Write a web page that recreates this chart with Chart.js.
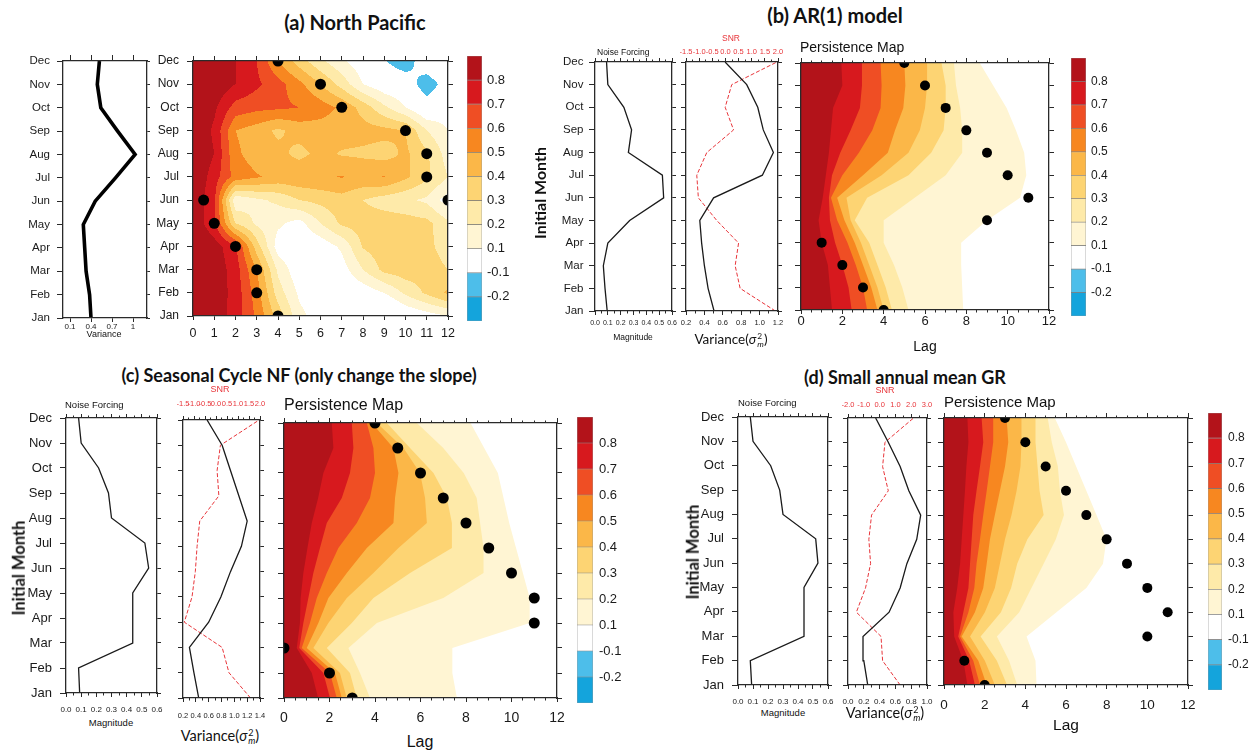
<!DOCTYPE html>
<html>
<head>
<meta charset="utf-8">
<script src="https://cdn.jsdelivr.net/npm/chart.js@4.4.1/dist/chart.umd.min.js"></script>
<style>
html, body { margin: 0; padding: 0; background: #fff; }
#fig { position: relative; width: 1256px; height: 750px; overflow: hidden; background: #fff; }
.t { position: absolute; white-space: nowrap; color: #111; line-height: 1; }
.ttl { font-family: Lato, 'Open Sans', sans-serif; font-weight: 700; }
.cal { font-family: Lato, 'Open Sans', sans-serif; }
.lab { font-family: 'Liberation Sans', Arial, sans-serif; }
.c { transform: translate(-50%, -50%); }
.l { transform: translate(0, -50%); }
.rot { transform: translate(-50%, -50%) rotate(-90deg); }
.sig { display: inline-flex; flex-direction: column; vertical-align: middle; font-size: 0.62em; line-height: 0.9; margin-left: 1px; }
</style>
</head>
<body>
<div id="fig"></div>
<script>
// ---- data (months Jan..Dec) ----
const MONTHS = ['Jan', 'Feb', 'Mar', 'Apr', 'May', 'Jun', 'Jul', 'Aug', 'Sep', 'Oct', 'Nov', 'Dec'];
const LEVELS = [-0.2, -0.1, 0.1, 0.2, 0.3, 0.4, 0.5, 0.6, 0.7, 0.8];
const CB_LABELS = ['-0.2', '-0.1', '0.1', '0.2', '0.3', '0.4', '0.5', '0.6', '0.7', '0.8'];
const COLORS = ['#14a4dc', '#4dbeea', '#ffffff', '#fff5d3', '#feeaa9', '#fdd473', '#fbb748', '#f78720', '#ef4e24', '#d7191e', '#b3131a'];

// (a) North Pacific
const VAR_A = [0.40, 0.38, 0.33, 0.31, 0.29, 0.46, 0.75, 1.03, 0.78, 0.54, 0.49, 0.52];
const VAR_A_TICKS = [0.1, 0.4, 0.7, 1.0];
// persistence by lag 0..12
const A_JAN = [0.93, 0.87, 0.75, 0.58, 0.36, 0.13, 0.05, 0.02, 0.0, -0.11, 0.0, 0.05, 0.1];
const A_FEB = [0.93, 0.87, 0.76, 0.55, 0.25, 0.08, 0.02, 0.0, 0.03, 0.1, 0.22, 0.32, 0.42];
const A_MAR = [0.93, 0.87, 0.75, 0.5, 0.18, 0.02, -0.02, 0.05, 0.2, 0.33, 0.36, 0.35, 0.3];
const A_APR = [0.92, 0.85, 0.72, 0.35, 0.05, 0.0, 0.03, 0.12, 0.31, 0.36, 0.37, 0.33, 0.25];
const A_MAY = [0.88, 0.72, 0.3, 0.18, 0.12, 0.06, 0.2, 0.32, 0.35, 0.36, 0.35, 0.33, 0.22];
const A_JUN = [0.88, 0.72, 0.12, 0.18, 0.22, 0.3, 0.33, 0.36, 0.3, 0.25, 0.22, 0.18, 0.05];
const A_JUL = [0.9, 0.75, 0.56, 0.51, 0.47, 0.48, 0.49, 0.505, 0.48, 0.505, 0.42, 0.32, 0.2];
const A_AUG = [0.9, 0.8, 0.52, 0.45, 0.43, 0.37, 0.43, 0.39, 0.38, 0.36, 0.42, 0.32, 0.15];
const A_SEP = [0.9, 0.78, 0.5, 0.45, 0.38, 0.44, 0.45, 0.45, 0.44, 0.43, 0.4, 0.2, 0.1];
const A_OCT = [0.92, 0.82, 0.66, 0.63, 0.62, 0.6, 0.55, 0.48, 0.36, 0.22, 0.1, -0.02, 0.05];
const A_NOV = [0.95, 0.88, 0.8, 0.72, 0.64, 0.53, 0.4, 0.26, 0.1, 0.02, 0.0, -0.19, -0.02];
const A_DEC = [0.95, 0.88, 0.8, 0.7, 0.5, 0.35, 0.22, 0.12, 0.03, -0.09, -0.19, 0.02, 0.08];
const DOT_A_LAG = [4, 3, 3, 2, 1, 0.5, 12, 11, 11, 10, 7, 6, 4];
const DOT_A_MON = [0, 1, 2, 3, 4, 5, 5, 6, 7, 8, 9, 10, 11];

// (b) AR(1) model
const NF_B = [0.095, 0.078, 0.065, 0.10, 0.27, 0.535, 0.525, 0.26, 0.285, 0.225, 0.10, 0.09];
const VAR_B = [0.505, 0.44, 0.40, 0.37, 0.35, 0.50, 1.03, 1.15, 1.04, 0.98, 0.86, 0.625];
const SNR_B = [1.9, 0.56, 0.37, 0.5, -0.33, -1.03, -1.09, -0.71, 0.31, -0.01, 0.24, 1.96];
const DOTS_B = [4, 3, 2, 1, 9, 11, 10, 9, 8, 7, 6, 5];
// lag where persistence falls below 0.1 .. 0.8
const B01 = [7.85, 7.8, 7.75, 7.75, 9.0, 10.6, 10.9, 10.8, 10.4, 9.95, 9.3, 8.65];
const B02 = [5.2, 4.9, 4.5, 4.0, 4.0, 5.5, 7.0, 7.8, 7.8, 7.7, 7.5, 7.4];
const B03 = [4.4, 4.1, 3.7, 3.3, 2.6, 3.2, 5.2, 6.3, 6.9, 7.0, 7.0, 6.8];
const B04 = [4.0, 3.7, 3.3, 2.9, 2.4, 2.2, 3.9, 5.2, 5.75, 6.0, 6.1, 6.1];
const B05 = [3.7, 3.4, 3.0, 2.6, 2.1, 1.75, 3.0, 4.2, 4.55, 4.95, 5.05, 5.0];
const B06 = [3.2, 3.0, 2.65, 2.25, 1.75, 1.45, 2.0, 2.8, 3.45, 3.85, 3.9, 3.85];
const B07 = [2.45, 2.3, 2.0, 1.65, 1.4, 1.35, 1.5, 1.9, 2.4, 2.85, 2.95, 2.95];
const B08 = [1.5, 1.4, 1.3, 1.0, 0.85, 1.05, 1.2, 1.35, 1.45, 1.55, 2.0, 1.95];

// (c) Seasonal Cycle NF
const NF_C = [0.09, 0.083, 0.44, 0.44, 0.44, 0.545, 0.52, 0.30, 0.28, 0.215, 0.10, 0.083];
const VAR_C = [0.445, 0.37, 0.30, 0.60, 0.79, 0.94, 1.11, 1.20, 1.07, 0.94, 0.81, 0.575];
const SNR_C = [1.57, 0.59, 0.28, -1.44, -1.09, -0.94, -0.86, -0.74, 0.13, 0.05, 0.2, 1.96];
const DOTS_C = [3, 2, 0, 11, 11, 10, 9, 8, 7, 6, 5, 4];
const C01 = [7.6, 7.4, 7.4, 10.8, 10.8, 10.5, 10.2, 9.9, 9.65, 9.4, 8.8, 8.2];
const C02 = [3.78, 3.34, 2.83, 4.08, 7.0, 8.77, 8.77, 8.62, 8.47, 7.9, 7.0, 5.84];
const C03 = [3.2, 2.9, 1.88, 2.98, 3.93, 5.54, 7.38, 7.38, 7.16, 6.57, 5.54, 4.52];
const C04 = [2.76, 2.46, 1.29, 1.95, 2.76, 3.93, 5.03, 6.28, 6.2, 5.98, 5.25, 4.08];
const C05 = [2.54, 2.24, 1.0, 1.51, 1.95, 2.76, 3.64, 4.81, 4.88, 5.03, 4.81, 3.86];
const C06 = [2.32, 2.02, 0.78, 1.14, 1.44, 1.88, 2.39, 3.2, 3.78, 4.0, 3.93, 3.64];
const C07 = [2.02, 1.73, 0.67, 0.85, 1.07, 1.29, 1.58, 1.88, 2.54, 2.9, 3.05, 2.98];
const C08 = [1.5, 1.22, 0.56, 0.7, 0.73, 0.85, 1.03, 1.22, 1.5, 1.73, 2.17, 2.1];

// (d) Small annual mean GR
const NF_D = [0.091, 0.082, 0.44, 0.44, 0.44, 0.533, 0.518, 0.30, 0.278, 0.218, 0.10, 0.082];
const VAR_D = [0.25, 0.20, 0.19, 0.52, 0.66, 0.745, 0.87, 0.92, 0.77, 0.66, 0.51, 0.35];
const SNR_D = [1.3, 0.19, 0.09, -1.47, -0.89, -0.57, -0.68, -0.51, 0.55, 0.19, 0.34, 2.15];
const DOTS_D = [2, 1, 10, 11, 10, 9, 8, 7, 6, 5, 4, 3];
const D01 = [4.55, 4.5, 4.06, 5.53, 7.0, 7.82, 7.99, 7.5, 7.0, 6.5, 6.0, 5.45];
const D02 = [3.6, 3.2, 2.6, 3.7, 4.3, 4.9, 5.5, 5.9, 5.7, 5.6, 5.3, 5.1];
const D03 = [3.1, 2.6, 1.8, 2.8, 3.3, 3.6, 4.1, 4.9, 4.7, 4.6, 4.5, 4.5];
const D04 = [2.5, 2.01, 1.28, 2.01, 2.5, 2.75, 3.0, 3.32, 3.57, 3.76, 3.81, 3.81];
const D05 = [2.1, 1.69, 0.87, 1.52, 1.93, 2.1, 2.26, 2.5, 2.75, 3.0, 3.16, 3.08];
const D06 = [1.77, 1.44, 0.79, 1.2, 1.49, 1.6, 1.77, 1.93, 2.1, 2.26, 2.42, 2.42];
const D07 = [1.52, 1.24, 0.7, 0.95, 1.2, 1.28, 1.36, 1.44, 1.6, 1.77, 1.93, 1.85];
const D08 = [1.15, 0.95, 0.5, 0.46, 0.65, 0.79, 0.87, 0.95, 1.03, 1.1, 1.2, 1.15];

// ---- setup ----
const SANS = "'Liberation Sans', Arial, Helvetica, sans-serif";
Chart.defaults.font.family = SANS;
Chart.defaults.color = '#1a1a1a';
Chart.defaults.animation = false;
Chart.defaults.events = [];
Chart.defaults.plugins.legend.display = false;
Chart.defaults.plugins.tooltip.enabled = false;

const fig = document.getElementById('fig');
const RGB = COLORS.map(h => [1, 3, 5].map(i => parseInt(h.substr(i, 2), 16)));
const bandIndex = v => { let i = 0; while (i < LEVELS.length && v >= LEVELS[i]) i++; return i; };
const fmt1 = v => v.toFixed(1);
const monthLabel = v => MONTHS[Math.round(v)];

function place(box, pad) {
  const cv = document.createElement('canvas');
  const w = box.w + pad.l + pad.r, h = box.h + pad.t + pad.b;
  cv.width = w; cv.height = h;
  cv.style.cssText = 'position:absolute;left:' + (box.l - pad.l) + 'px;top:' + (box.t - pad.t) + 'px;width:' + w + 'px;height:' + h + 'px';
  fig.appendChild(cv);
  return cv;
}

// one axis; size forces the room it takes so the plot box lands where the figure has it
function ax(axis, pos, min, max, o) {
  const horiz = pos === 'top' || pos === 'bottom';
  return {
    type: 'linear', axis: axis, position: pos, min: min, max: max, weight: o.weight === undefined ? 1 : o.weight,
    afterBuildTicks: o.values ? s => { s.ticks = o.values.map(v => ({value: v})); } : undefined,
    afterFit: s => {
      if (horiz) s.height = o.size || 0; else s.width = o.size || 0;
      s.paddingTop = 0; s.paddingBottom = 0; s.paddingLeft = 0; s.paddingRight = 0;
    },
    ticks: {
      display: !!o.fmt, stepSize: o.step, autoSkip: false, maxRotation: 0, minRotation: 0,
      font: {size: o.fs || 10}, color: o.color || '#1a1a1a', padding: o.tp === undefined ? 3 : o.tp,
      callback: o.fmt || (() => '')
    },
    grid: {drawOnChartArea: false, drawTicks: true, tickLength: o.tl === undefined ? 5 : o.tl, tickColor: '#2a2a2a', tickWidth: 1},
    border: {display: o.border !== false, color: '#2a2a2a', width: 1.3, z: 1}
  };
}

const baseOpts = scales => ({responsive: false, devicePixelRatio: 1, animation: false, layout: {padding: 0}, scales: scales});

function linePanel(box, pad, o) {
  const cv = place(box, pad);
  const datasets = o.lines.map(L => ({
    data: L.vals.map((v, m) => ({x: v, y: m})),
    xAxisID: L.axis || 'x', yAxisID: 'y',
    borderColor: L.color || '#1a1a1a', borderWidth: L.w || 1.3, borderDash: L.dash || [],
    showLine: true, pointRadius: 0, fill: false
  }));
  const scales = {
    y: ax('y', 'left', 0, 11, Object.assign({step: 1, size: pad.l, tl: 6}, o.left || {})),
    yr: ax('y', 'right', 0, 11, {step: 1, size: pad.r, tl: o.rtl || 4}),
    x: ax('x', 'bottom', o.bx.min, o.bx.max, Object.assign({size: pad.b, tl: 4}, o.bx)),
    xt: ax('x', 'top', o.tx.min, o.tx.max, Object.assign({size: pad.t, tl: 4}, o.tx))
  };
  if (o.bxm) scales.xm = ax('x', 'bottom', o.bx.min, o.bx.max, {step: o.bxm, tl: 2.5, weight: 0, border: false});
  if (o.txm) scales.xtm = ax('x', 'top', o.tx.min, o.tx.max, {step: o.txm, tl: 2.5, weight: 0, border: false});
  new Chart(cv, {type: 'scatter', data: {datasets: datasets}, options: baseOpts(scales)});
}

// filled persistence field from a lag x month grid, coloured by contour band
const heat = {
  id: 'heat',
  beforeDatasetsDraw(chart, args, opts) {
    const g = opts.grid;
    if (!g) return;
    const a = chart.chartArea, xs = chart.scales.x, ys = chart.scales.y;
    const x0 = Math.round(a.left), y0 = Math.round(a.top);
    const w = Math.round(a.right) - x0, h = Math.round(a.bottom) - y0;
    const img = chart.ctx.createImageData(w, h);
    const nk = g[0].length;
    for (let j = 0; j < h; j++) {
      const m = Math.min(Math.max(ys.getValueForPixel(y0 + j + 0.5), 0), g.length - 1);
      const m0 = Math.min(Math.floor(m), g.length - 2), fy = m - m0;
      for (let i = 0; i < w; i++) {
        const lag = Math.min(Math.max(xs.getValueForPixel(x0 + i + 0.5), 0), nk - 1);
        const k0 = Math.min(Math.floor(lag), nk - 2), fx = lag - k0;
        const v = (1 - fy) * ((1 - fx) * g[m0][k0] + fx * g[m0][k0 + 1]) + fy * ((1 - fx) * g[m0 + 1][k0] + fx * g[m0 + 1][k0 + 1]);
        const c = RGB[bandIndex(v)], p = (j * w + i) * 4;
        img.data[p] = c[0]; img.data[p + 1] = c[1]; img.data[p + 2] = c[2]; img.data[p + 3] = 255;
      }
    }
    chart.ctx.putImageData(img, x0, y0);
  }
};

function mapPanel(box, pad, o) {
  const cv = place(box, pad);
  const datasets = [{
    data: o.dots, pointRadius: o.dotR, pointBackgroundColor: '#000', pointBorderWidth: 0,
    showLine: false, clip: 0
  }];
  if (o.bands) {
    // bands listed 0.1 .. 0.8; the highest level must sit on top
    for (let k = o.bands.length - 1; k >= 0; k--) {
      const b = o.bands[k];
      datasets.push({
        data: [{x: 0, y: 0}].concat(b.map((v, m) => ({x: v, y: m})), [{x: 0, y: 11}]),
        showLine: true, fill: 'shape', backgroundColor: COLORS[k + 3],
        borderColor: 'rgba(0,0,0,0)', borderWidth: 0, pointRadius: 0
      });
    }
  }
  const scales = {
    y: ax('y', 'left', 0, 11, Object.assign({step: 1, size: pad.l, tl: 6}, o.left || {})),
    yr: ax('y', 'right', 0, 11, {step: 1, size: pad.r, tl: 5}),
    x: ax('x', 'bottom', 0, 12, {step: o.xstep, size: pad.b, tl: 4, fmt: v => String(v), fs: o.xfs, tp: o.xtp}),
    xt: ax('x', 'top', 0, 12, {step: o.xstep, size: pad.t, tl: 5})
  };
  if (o.minor) {
    scales.xm = ax('x', 'bottom', 0, 12, {step: o.minor, tl: 2.5, weight: 0, border: false});
    scales.xtm = ax('x', 'top', 0, 12, {step: o.minor, tl: 2.5, weight: 0, border: false});
  }
  const opts = baseOpts(scales);
  opts.plugins = {heat: {grid: o.grid || null}};
  new Chart(cv, {type: 'scatter', data: {datasets: datasets}, options: opts, plugins: o.grid ? [heat] : []});
}

function colorbar(box, pad, fs, tp) {
  const cv = place(box, pad);
  new Chart(cv, {
    type: 'bar',
    data: {
      labels: [''],
      datasets: COLORS.map(c => ({
        data: [1], backgroundColor: c, borderColor: 'rgba(70,70,70,0.55)', borderWidth: 0.7,
        borderSkipped: false, barPercentage: 1, categoryPercentage: 1
      }))
    },
    options: baseOpts({
      x: {stacked: true, display: false},
      y: {
        stacked: true, position: 'right', min: 0, max: 11,
        afterBuildTicks: s => { s.ticks = CB_LABELS.map((_, i) => ({value: i + 1})); },
        afterFit: s => { s.width = pad.r; s.paddingTop = 0; s.paddingBottom = 0; },
        ticks: {font: {size: fs}, padding: tp, color: '#1a1a1a', callback: v => CB_LABELS[Math.round(v) - 1]},
        grid: {display: false, drawTicks: false},
        border: {display: false}
      }
    })
  });
}

const toPts = arr => arr.map((v, m) => ({x: v, y: m}));

// ---- (a) North Pacific ----
linePanel({l: 63, t: 61, w: 84, h: 257}, {l: 62, r: 8, t: 14, b: 22}, {
  lines: [{vals: VAR_A, w: 3.6, color: '#000'}],
  left: {fmt: monthLabel, fs: 11.5, tp: 7},
  rtl: 3,
  bx: {min: 0, max: 1.2, values: VAR_A_TICKS, fmt: v => String(Math.round(v * 10) / 10), fs: 8, tp: 0},
  tx: {min: 0, max: 1.2, values: VAR_A_TICKS, tl: 6}
});
mapPanel({l: 193, t: 61, w: 255, h: 255}, {l: 50, r: 14, t: 14, b: 30}, {
  grid: [A_JAN, A_FEB, A_MAR, A_APR, A_MAY, A_JUN, A_JUL, A_AUG, A_SEP, A_OCT, A_NOV, A_DEC],
  dots: DOT_A_LAG.map((v, i) => ({x: v, y: DOT_A_MON[i]})), dotR: 5.5,
  left: {fmt: monthLabel, fs: 12, tp: 8},
  xstep: 1, xfs: 12.5, xtp: 6
});
colorbar({l: 467, t: 64, w: 15, h: 249}, {l: 0, r: 32, t: 8, b: 8}, 13, 5);

// ---- (b) AR(1) model ----
linePanel({l: 595, t: 62, w: 77, h: 249}, {l: 40, r: 6, t: 8, b: 16}, {
  lines: [{vals: NF_B}],
  left: {fmt: monthLabel, fs: 11.5, tp: 5.5},
  bx: {min: 0, max: 0.6, step: 0.1, fmt: fmt1, fs: 7, tp: 3.5}, bxm: 0.05,
  tx: {min: 0, max: 0.6, step: 0.1}, txm: 0.05
});
linePanel({l: 686, t: 62, w: 92, h: 249}, {l: 6, r: 6, t: 20, b: 16}, {
  lines: [{vals: VAR_B}, {vals: SNR_B, axis: 'xt', color: '#e8353a', w: 1, dash: [4, 2]}],
  left: {tl: 5},
  bx: {min: 0.2, max: 1.2, step: 0.2, fmt: fmt1, fs: 7.5, tp: 3}, bxm: 0.1,
  tx: {min: -1.5, max: 2.0, step: 0.5, fmt: fmt1, fs: 7.5, tp: 1.5, color: '#e8353a'}, txm: 0.25
});
mapPanel({l: 801, t: 63, w: 248, h: 247}, {l: 12, r: 14, t: 14, b: 30}, {
  bands: [B01, B02, B03, B04, B05, B06, B07, B08],
  dots: toPts(DOTS_B), dotR: 5,
  xstep: 2, minor: 0.5, xfs: 13, xtp: 0
});
colorbar({l: 1071, t: 66, w: 15, h: 242}, {l: 0, r: 32, t: 8, b: 8}, 12, 5);

// ---- (c) Seasonal Cycle NF ----
linePanel({l: 66, t: 418, w: 91, h: 275}, {l: 50, r: 6, t: 8, b: 20}, {
  lines: [{vals: NF_C}],
  left: {fmt: monthLabel, fs: 13, tp: 8},
  bx: {min: 0, max: 0.6, step: 0.1, fmt: fmt1, fs: 8, tp: 7.5}, bxm: 0.05,
  tx: {min: 0, max: 0.6, step: 0.1}, txm: 0.05
});
linePanel({l: 183, t: 420, w: 77, h: 278}, {l: 6, r: 6, t: 22, b: 20}, {
  lines: [{vals: VAR_C}, {vals: SNR_C, axis: 'xt', color: '#e8353a', w: 1, dash: [4, 2]}],
  left: {tl: 5},
  bx: {min: 0.2, max: 1.4, step: 0.2, fmt: fmt1, fs: 7.5, tp: 9}, bxm: 0.1,
  tx: {min: -1.5, max: 2.0, step: 0.5, fmt: fmt1, fs: 7.5, tp: 7.5, color: '#e8353a'}, txm: 0.25
});
mapPanel({l: 284, t: 423, w: 273, h: 275}, {l: 12, r: 14, t: 14, b: 34}, {
  bands: [C01, C02, C03, C04, C05, C06, C07, C08],
  dots: toPts(DOTS_C), dotR: 5.5,
  xstep: 2, minor: 0.5, xfs: 14, xtp: 8
});
colorbar({l: 577, t: 425, w: 16, h: 270}, {l: 0, r: 34, t: 8, b: 8}, 13, 6);

// ---- (d) Small annual mean GR ----
linePanel({l: 738, t: 417, w: 90, h: 268}, {l: 50, r: 6, t: 8, b: 20}, {
  lines: [{vals: NF_D}],
  left: {fmt: monthLabel, fs: 13, tp: 8},
  bx: {min: 0, max: 0.6, step: 0.1, fmt: fmt1, fs: 8, tp: 7.5}, bxm: 0.05,
  tx: {min: 0, max: 0.6, step: 0.1}, txm: 0.05
});
linePanel({l: 848, t: 418, w: 79, h: 267}, {l: 6, r: 6, t: 22, b: 20}, {
  lines: [{vals: VAR_D}, {vals: SNR_D, axis: 'xt', color: '#e8353a', w: 1, dash: [4, 2]}],
  left: {tl: 5},
  bx: {min: 0, max: 1.0, step: 0.2, fmt: fmt1, fs: 8, tp: 7.5}, bxm: 0.1,
  tx: {min: -2, max: 3, step: 1, fmt: fmt1, fs: 7.5, tp: 4.5, color: '#e8353a'}, txm: 0.5
});
mapPanel({l: 944, t: 418, w: 244, h: 267}, {l: 12, r: 14, t: 14, b: 30}, {
  bands: [D01, D02, D03, D04, D05, D06, D07, D08],
  dots: toPts(DOTS_D), dotR: 5,
  xstep: 2, minor: 0.5, xfs: 13.5, xtp: 8
});
colorbar({l: 1208, t: 421, w: 14, h: 261}, {l: 0, r: 34, t: 8, b: 8}, 12, 6);

// ---- text ----
const VAR_SIG = 'Variance(<i>σ</i><span class="sig"><span>2</span><span><i>m</i></span></span>)';
const TEXTS = [
  [355, 22, 'c ttl', 20, '(a) North Pacific'],
  [835, 15, 'c ttl', 20, '(b) AR(1) model'],
  [299, 375, 'c ttl', 18, '(c) Seasonal Cycle NF (only change the slope)'],
  [905, 377, 'c ttl', 18, '(d) Small annual mean GR'],
  [540, 193, 'rot ttl', 16, 'Initial Month'],
  [19, 568, 'rot ttl', 16.5, 'Initial Month'],
  [693, 552, 'rot ttl', 16.5, 'Initial Month'],
  [104, 334, 'c lab', 9, 'Variance'],
  [633, 337, 'c lab', 8.5, 'Magnitude'],
  [111, 723, 'c lab', 9.5, 'Magnitude'],
  [783, 713, 'c lab', 9.5, 'Magnitude'],
  [597, 52, 'l lab', 8.5, 'Noise Forcing'],
  [65, 405, 'l lab', 9.5, 'Noise Forcing'],
  [738, 403, 'l lab', 9.5, 'Noise Forcing'],
  [731, 38, 'c lab', 8.5, 'SNR', '#e8353a'],
  [220, 389, 'c lab', 9, 'SNR', '#e8353a'],
  [885, 390, 'c lab', 9, 'SNR', '#e8353a'],
  [731, 341, 'c cal', 13.5, VAR_SIG],
  [220, 737, 'c cal', 14.5, VAR_SIG],
  [885, 714, 'c cal', 14.5, VAR_SIG],
  [925, 346, 'c lab', 14, 'Lag'],
  [420, 742, 'c lab', 16, 'Lag'],
  [1066, 725, 'c lab', 15.5, 'Lag'],
  [800, 47, 'l lab', 14, 'Persistence Map'],
  [284, 405, 'l lab', 16, 'Persistence Map'],
  [944, 401, 'l lab', 15, 'Persistence Map']
];
TEXTS.forEach(([x, y, cls, size, html, color]) => {
  const d = document.createElement('div');
  d.className = 't ' + cls;
  d.style.left = x + 'px';
  d.style.top = y + 'px';
  d.style.fontSize = size + 'px';
  if (color) d.style.color = color;
  d.innerHTML = html;
  fig.appendChild(d);
});
</script>
</body>
</html>
